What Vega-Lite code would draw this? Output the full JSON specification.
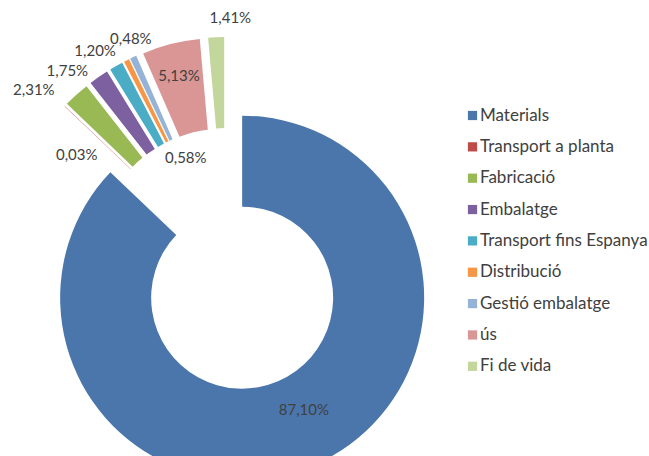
{
  "$schema": "https://vega.github.io/schema/vega-lite/v6.json",
  "width": 649,
  "height": 456,
  "autosize": "none",
  "padding": 0,
  "background": "white",
  "config": {
    "view": {"stroke": null},
    "locale": {"number": {"decimal": ",", "thousands": ".", "grouping": [3], "currency": ["", "%"]}}
  },
  "data": {
    "values": [
      {"category": "Materials", "value": 87.10, "order": 1},
      {"category": "Transport a planta", "value": 0.03, "order": 2},
      {"category": "Fabricació", "value": 2.31, "order": 3},
      {"category": "Embalatge", "value": 1.75, "order": 4},
      {"category": "Transport fins Espanya", "value": 1.20, "order": 5},
      {"category": "Distribució", "value": 0.48, "order": 6},
      {"category": "Gestió embalatge", "value": 0.58, "order": 7},
      {"category": "ús", "value": 5.13, "order": 8},
      {"category": "Fi de vida", "value": 1.41, "order": 9}
    ]
  },
  "encoding": {
    "theta": {"field": "value", "type": "quantitative", "stack": true},
    "order": {"field": "order", "type": "quantitative"}
  },
  "layer": [
    {
      "mark": {
        "type": "arc",
        "innerRadius": 91,
        "outerRadius": 182,
        "x": {"expr": "226 + 41*sin(PI*(datum.value_start+datum.value_end)/99.99)"},
        "y": {"expr": "260 - 41*cos(PI*(datum.value_start+datum.value_end)/99.99)"}
      },
      "encoding": {
        "color": {
          "field": "category",
          "type": "nominal",
          "scale": {
            "domain": ["Materials", "Transport a planta", "Fabricació", "Embalatge", "Transport fins Espanya", "Distribució", "Gestió embalatge", "ús", "Fi de vida"],
            "range": ["#4A76AC", "#BE4B48", "#98B954", "#7D60A0", "#4BACC6", "#F79646", "#95B3D7", "#D99694", "#C3D69B"]
          },
          "legend": {
            "orient": "none",
            "legendX": 464,
            "legendY": 107,
            "title": null,
            "symbolType": "square",
            "symbolSize": 85,
            "symbolStrokeWidth": 0,
            "labelFont": "Lato",
            "labelFontSize": 17,
            "labelColor": "#404040",
            "labelOffset": -1,
            "rowPadding": 13.35,
            "padding": 0,
            "labelLimit": 300
          }
        }
      }
    },
    {
      "mark": {
        "type": "text",
        "font": "Lato",
        "fontSize": 15,
        "fill": "#404040",
        "x": {"expr": "226 + 41*sin(PI*(datum.value_start+datum.value_end)/99.99)"},
        "y": {"expr": "260 - 41*cos(PI*(datum.value_start+datum.value_end)/99.99)"},
        "radius": {"expr": "[128,142,216,206,206,200,69,149,201][datum.order-1]"},
        "thetaOffset": {"expr": "[-0.098,-0.192,-0.131,-0.108,-0.052,0.068,0.087,0,0.075][datum.order-1]"}
      },
      "encoding": {
        "text": {"field": "value", "type": "quantitative", "format": "$.2f"}
      }
    }
  ]
}
